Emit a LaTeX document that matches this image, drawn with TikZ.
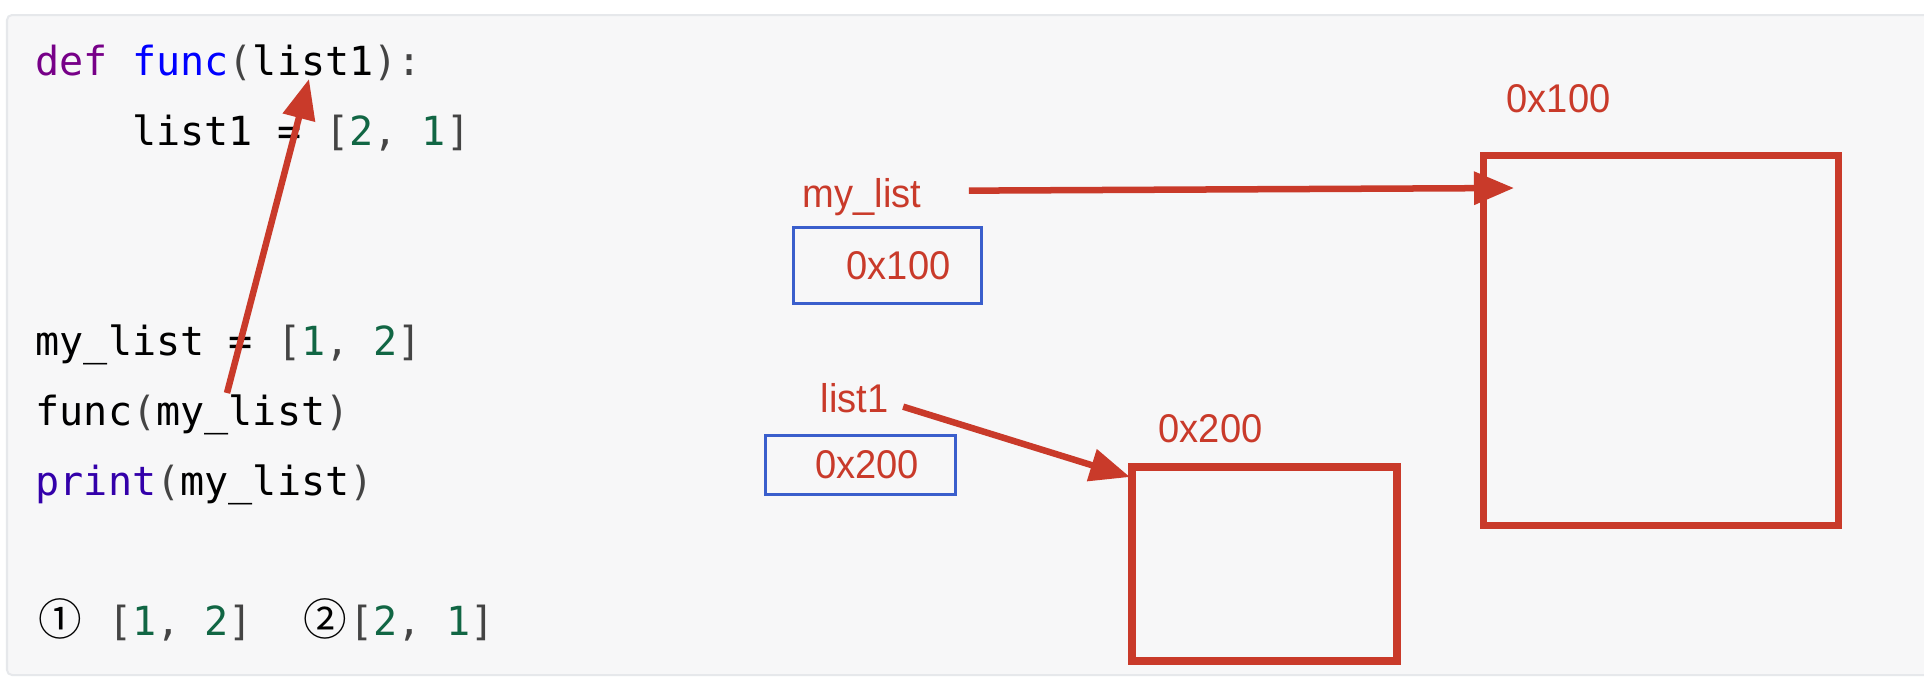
\documentclass[tikz,border=0pt]{standalone}
\usepackage{fontspec}
\usetikzlibrary{arrows.meta}

\newfontfamily\codefont{DejaVu Sans Mono}
\newfontfamily\annotfont[FakeStretch=0.95]{Liberation Sans}
\newfontfamily\symfont{Noto Sans CJK SC}

\definecolor{panelbg}{RGB}{247,247,248}
\definecolor{panelline}{RGB}{230,232,235}
\definecolor{kwpurple}{RGB}{119,0,136}
\definecolor{fnblue}{RGB}{0,0,255}
\definecolor{bipurple}{RGB}{51,0,170}
\definecolor{numgreen}{RGB}{17,102,68}
\definecolor{pungray}{RGB}{68,68,68}
\definecolor{annred}{RGB}{201,58,42}
\definecolor{varblue}{RGB}{58,94,204}

\newcommand\kw[1]{\textcolor{kwpurple}{#1}}
\newcommand\fn[1]{\textcolor{fnblue}{#1}}
\newcommand\bi[1]{\textcolor{bipurple}{#1}}
\newcommand\num[1]{\textcolor{numgreen}{#1}}
\newcommand\pn[1]{\textcolor{pungray}{#1}}
\newcommand\wide[1]{\makebox[1.204em][c]{\symfont\fontsize{12.4}{13}\selectfont #1}}

\def\codesize{\fontsize{11.4}{13}\selectfont}

\begin{document}
\begin{tikzpicture}[x=0.01cm, y=-0.01cm, >={Triangle[length=0.4cm,width=0.32cm]}]
        \tikzstyle{panel}=[fill=panelbg, draw=panelline, line width=0.02cm, rounded corners=0.05cm]
        \tikzstyle{code}=[anchor=base west, inner sep=0pt, font=\codefont\codesize]
        \tikzstyle{lbl}=[anchor=base west, inner sep=0pt, text=annred, font=\annotfont\codesize]
        \tikzstyle{varbox}=[draw=varblue, line width=0.03cm, inner sep=0pt, text=annred, font=\annotfont\codesize]
        \tikzstyle{objbox}=[draw=annred, line width=0.07cm, inner sep=0pt]
        \tikzstyle{ptr}=[->, draw=annred, fill=annred, line width=0.065cm]

        \path[use as bounding box, fill=white] (0,0) rectangle (1924,690);
        \draw[panel] (7,15) rectangle (1950,675);

        % code
        \node[code] (L1) at (35,75) {\kw{def} \fn{func}\pn{(}list1\pn{):}};
        \node[code] (L2) at (35,145) {~~~~list1 = \pn{[}\num{2}\pn{,} \num{1}\pn{]}};
        \node[code] (L5) at (35,355) {my\_list = \pn{[}\num{1}\pn{,} \num{2}\pn{]}};
        \node[code] (L6) at (35,425) {func\pn{(}my\_list\pn{)}};
        \node[code] (L7) at (35,495) {\bi{print}\pn{(}my\_list\pn{)}};
        \node[code] (L9) at (35,635) {\wide{①} \pn{[}\num{1}\pn{,} \num{2}\pn{]}~~\wide{②}\pn{[}\num{2}\pn{,} \num{1}\pn{]}};

        % names and addresses
        \node[lbl] (lbl-my) at (802,207) {my\_list};
        \node[varbox, minimum width=1.87cm, minimum height=0.75cm] (var-my) at (887.5,265.5) {\hspace*{0.22cm}0x100};
        \node[lbl] (lbl-l1) at (820,412) {list1};
        \node[varbox, minimum width=1.90cm, minimum height=0.59cm] (var-l1) at (860.5,465) {\hspace*{0.13cm}0x200};

        % objects
        \node[lbl] (lbl-100) at (1506,112) {0x100};
        \node[objbox, minimum width=3.54cm, minimum height=3.69cm] (obj-100) at (1661,340.5) {};
        \node[lbl] (lbl-200) at (1158,442) {0x200};
        \node[objbox, line width=0.08cm, minimum width=2.65cm, minimum height=1.94cm] (obj-200) at (1264.5,564) {};

        \coordinate (arg-out) at (227,393);
        \coordinate (arg-in) at (309,79);
        \coordinate (in-100) at (1514,188);
        \coordinate (in-200) at (1130,477);

        \draw[ptr] (arg-out) -- (arg-in);
        \draw[ptr] ([xshift=0.47cm,yshift=0.06cm]lbl-my.east) -- (in-100);
        \draw[ptr] ([xshift=0.14cm,yshift=-0.09cm]lbl-l1.east) -- (in-200);
    \end{tikzpicture}
\end{document}
